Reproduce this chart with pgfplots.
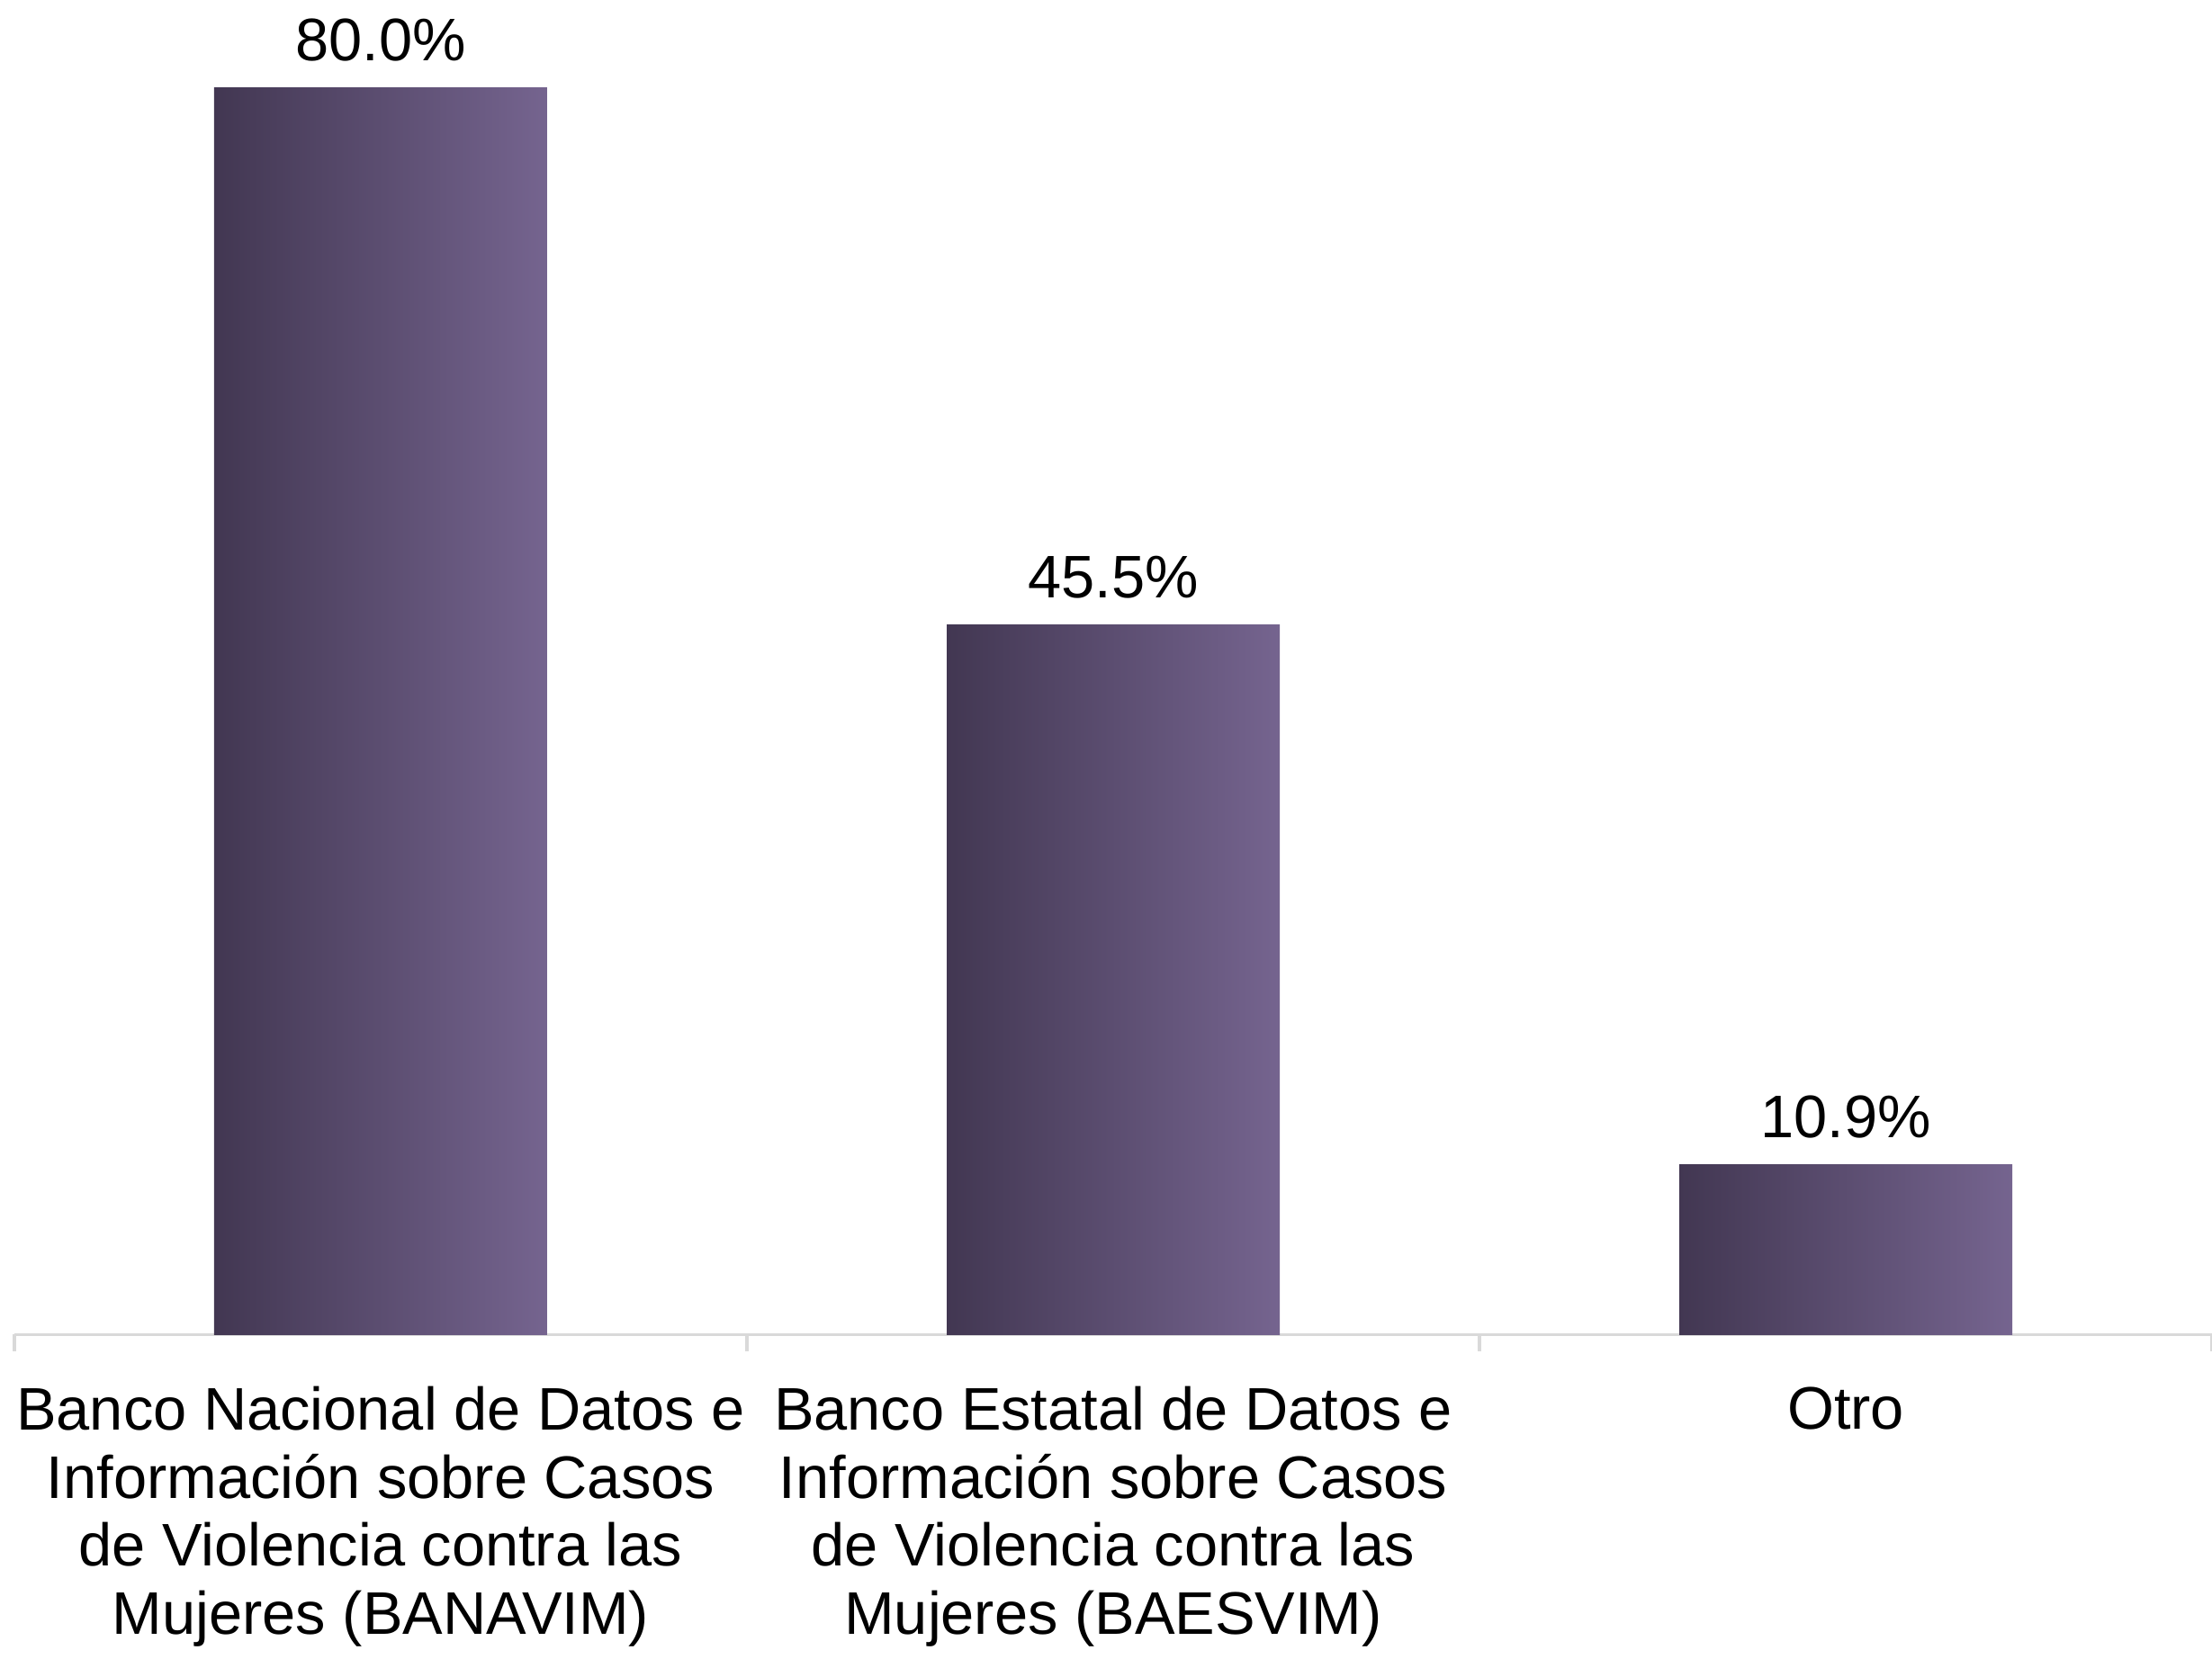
\documentclass[border=0pt]{standalone}
\usepackage{pgfplots}
\pgfplotsset{compat=1.18}
\usepackage{fontspec}
\setmainfont{Liberation Sans}
\definecolor{barleft}{HTML}{423752}
\definecolor{barright}{HTML}{75648F}
\definecolor{axisgray}{HTML}{D9D9D9}
\begin{document}
\begin{tikzpicture}
\fontsize{16.3}{18.4}\selectfont
\begin{axis}[
  scale only axis,
  width=596pt, height=362pt,
  ymin=0, ymax=85.6,
  xmin=-0.5, xmax=2.5,
  axis y line=none,
  axis x line*=bottom,
  x axis line style={axisgray, line width=0.8pt},
  xtick={0,1,2},
  xticklabels={{Banco Nacional de Datos e\\Información sobre Casos\\de Violencia contra las\\Mujeres (BANAVIM)},
    {Banco Estatal de Datos e\\Información sobre Casos\\de Violencia contra las\\Mujeres (BAESVIM)},
    {Otro}},
  major tick length=0pt,
  extra x ticks={-0.5,0.5,1.5,2.5},
  extra x tick labels={},
  extra x tick style={major tick length=4.6pt, tick style={axisgray, line width=0.8pt}},
  xticklabel style={align=center, font=\fontsize{16.3}{18.4}\selectfont, yshift=-8.6pt},
  tick align=outside,
  no markers,
  /pgf/number format/assume math mode=true,
  nodes near coords={\pgfmathprintnumber[fixed,fixed zerofill,precision=1]{\pgfplotspointmeta}\%},
  nodes near coords style={font=\fontsize{16.3}{18.4}\selectfont, black, yshift=1.5pt},
  every axis plot/.append style={ybar, bar width=90.3pt, bar shift=0pt, draw=none, mark=none,
    left color=barleft, right color=barright},
  clip=false,
]
\addplot coordinates {(0,80.0)};
\addplot coordinates {(1,45.5)};
\addplot coordinates {(2,10.9)};
\coordinate (sw) at (rel axis cs:0,0);
\coordinate (ne) at (rel axis cs:1,1);
\end{axis}
\pgfresetboundingbox
\path (sw) ++(-3.9pt,-88pt) rectangle (ne);
\end{tikzpicture}
\end{document}
